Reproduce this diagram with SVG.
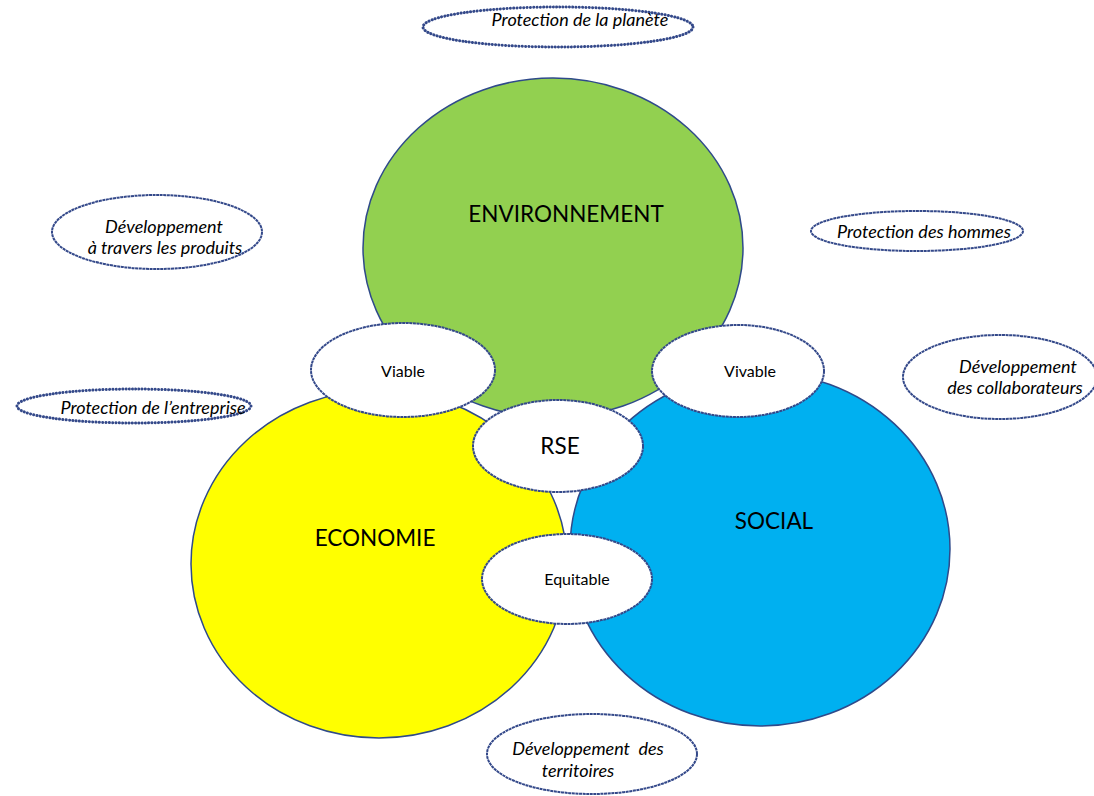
<svg xmlns="http://www.w3.org/2000/svg" width="1094" height="796" viewBox="0 0 1094 796">
<style>
.big{stroke:#2F4A8A;stroke-width:1.5}
.inner{fill:#fff;stroke:#34498A;stroke-width:2;stroke-dasharray:3 0.6}
.dot{fill:#fff;stroke:#34498A;stroke-width:3;stroke-dasharray:0.1 3.2;stroke-linecap:round}
.sol{fill:#fff;stroke:#34498A;stroke-width:2;stroke-dasharray:3 0.6}
.t{font-family:Lato,"Liberation Sans",sans-serif;fill:#000;text-anchor:middle}
.bl{font-size:22.5px}
.ml{font-size:16px}
.it{font-style:italic;font-size:18px}
</style>
<rect width="1094" height="796" fill="#fff"/>
<g id="environnement">
<ellipse class="big" cx="553" cy="248" rx="190" ry="170" fill="#92D050"/>
<text class="t bl" x="566" y="222">ENVIRONNEMENT</text>
</g>
<g id="economie">
<ellipse class="big" cx="379" cy="564" rx="188" ry="174" fill="#FFFF00"/>
<text class="t bl" x="375" y="546">ECONOMIE</text>
</g>
<g id="social">
<ellipse class="big" cx="760" cy="549" rx="190" ry="177" fill="#00B0F0"/>
<text class="t bl" x="774" y="529">SOCIAL</text>
</g>
<g id="viable">
<ellipse class="inner" cx="403" cy="370" rx="92" ry="47"/>
<text class="t ml" x="403" y="377">Viable</text>
</g>
<g id="vivable">
<ellipse class="inner" cx="738" cy="371" rx="86" ry="46"/>
<text class="t ml" x="750" y="377">Vivable</text>
</g>
<g id="rse">
<ellipse class="inner" cx="558" cy="446" rx="85" ry="46"/>
<text class="t bl" x="560" y="454">RSE</text>
</g>
<g id="equitable">
<ellipse class="inner" cx="567" cy="579" rx="85" ry="45"/>
<text class="t ml" x="577" y="585">Equitable</text>
</g>
<g id="planete">
<ellipse class="dot" cx="558" cy="27" rx="135" ry="20"/>
<text class="t it" x="580" y="26">Protection de la planète</text>
</g>
<g id="produits">
<ellipse class="sol" cx="157" cy="232" rx="105" ry="37"/>
<text class="t it" x="164" y="233">Développement</text>
<text class="t it" x="165" y="254">à travers les produits</text>
</g>
<g id="hommes">
<ellipse class="sol" cx="917" cy="231" rx="106" ry="20"/>
<text class="t it" x="924" y="238">Protection des hommes</text>
</g>
<g id="entreprise">
<ellipse class="dot" cx="134" cy="406" rx="117" ry="17"/>
<text class="t it" x="153" y="414">Protection de l’entreprise</text>
</g>
<g id="collaborateurs">
<ellipse class="sol" cx="1000" cy="377" rx="97" ry="42"/>
<text class="t it" x="1018" y="373">Développement</text>
<text class="t it" x="1015" y="394">des collaborateurs</text>
</g>
<g id="territoires">
<ellipse class="sol" cx="592" cy="754" rx="105" ry="40"/>
<text class="t it" x="588" y="755" xml:space="preserve">Développement  des</text>
<text class="t it" x="578" y="777">territoires</text>
</g>
<g id="connectors"/>
</svg>
